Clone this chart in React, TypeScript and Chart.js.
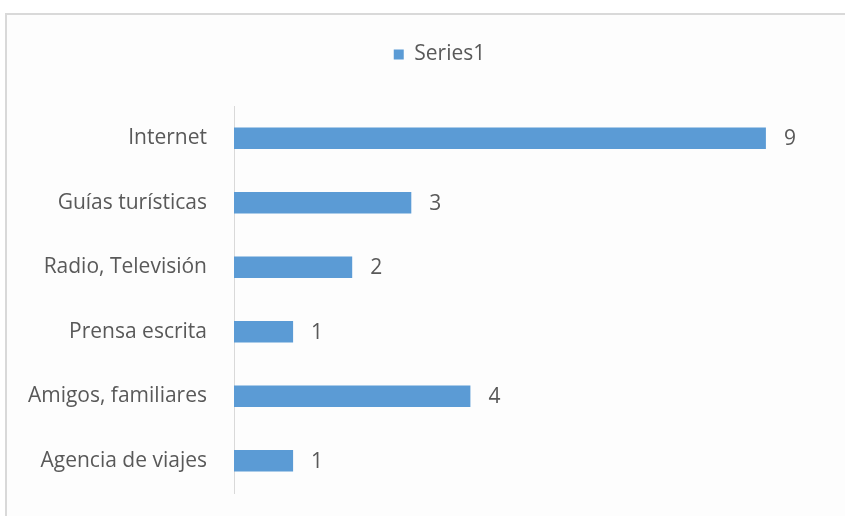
import React, { useEffect, useRef } from "react";
import { Chart, registerables } from "chart.js";

Chart.register(...registerables);

const categories = ["Internet", "Guías turísticas", "Radio, Televisión", "Prensa escrita", "Amigos, familiares", "Agencia de viajes"];
const values = [9, 3, 2, 1, 4, 1];
const seriesName = "Series1";

const FONT = "'Open Sans', sans-serif";
const TEXT = "#595959";
const FONT_SIZE = 21;

const valueLabels = {
  id: "valueLabels",
  afterDatasetsDraw(chart: any) {
    const ctx = chart.ctx;
    const meta = chart.getDatasetMeta(0);
    ctx.save();
    ctx.fillStyle = TEXT;
    ctx.font = `${FONT_SIZE}px ${FONT}`;
    ctx.textAlign = "left";
    ctx.textBaseline = "middle";
    meta.data.forEach((el: any, i: number) => {
      ctx.fillText(String(values[i]), el.x + 18, el.y + 1);
    });
    ctx.restore();
  },
};

const legendGap = {
  id: "legendGap",
  beforeInit(chart: any) {
    const legend = chart.legend;
    if (!legend) return;
    const orig = legend.fit;
    legend.fit = function () {
      orig.call(this);
      this.height += 31;
    };
  },
  afterLayout(chart: any) {
    const legend = chart.legend;
    if (!legend) return;
    legend.left += 27;
    legend.right += 27;
  },
};

export default function App() {
  const ref = useRef<HTMLCanvasElement>(null);
  useEffect(() => {
    if (!ref.current) return;
    const chart = new Chart(ref.current, {
      type: "bar",
      data: {
        labels: categories,
        datasets: [
          {
            label: seriesName,
            data: values,
            backgroundColor: "#5b9bd5",
            borderWidth: 0,
            barPercentage: 0.33,
            categoryPercentage: 1,
          },
        ],
      },
      options: {
        indexAxis: "y",
        animation: false,
        responsive: false,
        maintainAspectRatio: false,
        layout: { padding: { left: 0, right: 20, top: 36, bottom: 23 } },
        plugins: {
          legend: {
            display: true,
            position: "top",
            labels: {
              boxWidth: 10,
              boxHeight: 10,
              padding: 8,
              color: TEXT,
              font: { family: FONT, size: FONT_SIZE },
            },
          },
          tooltip: { enabled: false },
        },
        scales: {
          x: { display: false, min: 0, max: 10 },
          y: {
            grid: { display: false, drawTicks: false },
            border: { display: true, color: "#d9d9d9", width: 1 },
            ticks: { color: TEXT, font: { family: FONT, size: FONT_SIZE }, padding: 27 },
            afterFit(scale: any) {
              scale.width = 234;
              scale.paddingTop = 0;
              scale.paddingBottom = 0;
            },
          },
        },
      },
      plugins: [legendGap, valueLabels],
    });
    return () => chart.destroy();
  }, []);
  return (
    <div style={{ position: "fixed", left: 0, top: 0, width: 845, height: 516, background: "#ffffff" }}>
      <div
        style={{
          position: "absolute",
          left: 5,
          top: 13,
          width: 845,
          height: 516,
          borderTop: "2px solid #d9d9d9",
          borderLeft: "2px solid #d9d9d9",
          background: "#fdfdfd",
        }}
      />
      <canvas ref={ref} width={845} height={516} style={{ position: "absolute", left: 0, top: 0 }} />
    </div>
  );
}
